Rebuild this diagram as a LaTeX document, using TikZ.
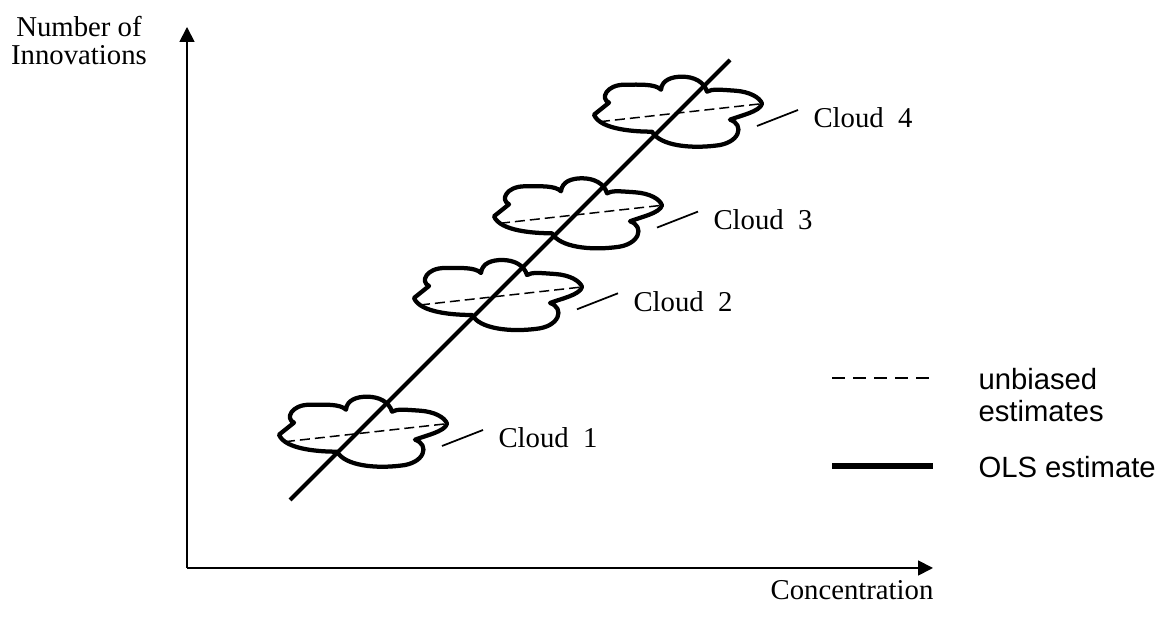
\documentclass[tikz,border=0pt]{standalone}
\usepackage{fontspec}
\setmainfont{Liberation Serif}
\newfontfamily\legendfont{Liberation Sans}
\usetikzlibrary{arrows.meta}

\tikzset{
  axis/.style={line width=0.7pt,-{Triangle[length=6pt,width=6pt]}},
  ols/.style={line width=1.6pt},
  cloudline/.style={line width=1.7pt,line join=round},
  unbiased/.style={line width=0.6pt,dash pattern=on 4pt off 2pt},
  leader/.style={line width=0.7pt},
  seriflabel/.style={font=\fontsize{11.5}{14}\selectfont,inner sep=0pt},
  legendlabel/.style={font=\legendfont\fontsize{11.7}{14}\selectfont,inner sep=0pt,anchor=base west},
  % one cloud of observations, its origin at the left end of its dashed line
  cloudpic/.pic={
    \draw[cloudline] (-6,7) -- (9,19)
      .. controls (0,23) and (6,37) .. (25,37)
      .. controls (40,37) and (55,38) .. (61,32)
      .. controls (62,42) and (72,45) .. (82,45)
      .. controls (94,45) and (104,40) .. (107,30)
      .. controls (112,33) and (120,32) .. (135,31)
      .. controls (150,30) and (160,24) .. (162,18)
      .. controls (160,10) and (140,6) .. (130,2)
      .. controls (145,-3) and (140,-22) .. (115,-24)
      .. controls (90,-27) and (60,-24) .. (52,-10)
      .. controls (35,-10) and (0,-8) .. (-6,7) -- cycle;
    \coordinate (-a) at (0,0);
    \coordinate (-b) at (162,18);
    \draw[unbiased] (-a) -- (-b);
    \coordinate (-lead) at (157,-4.3);
    \coordinate (-tail) at (198,11.7);
  }
}

\begin{document}
\begin{tikzpicture}[x=0.4pt,y=0.4pt]
\useasboundingbox (0,0) rectangle (1158,617);

% axes
\coordinate (origin) at (187,49);
\coordinate (ytip) at (187,590);
\coordinate (xtip) at (933,49);
\draw[axis] (origin) -- (ytip);
\draw[axis] (origin) -- (xtip);

\node[seriflabel,anchor=base] (ylab1) at (79,580) {Number of};
\node[seriflabel,anchor=base] (ylab2) at (79,552) {Innovations};
\node[seriflabel,anchor=base] (xlab) at (852,17) {Concentration};

% clouds
\pic (c1) at (285,175.3) {cloudpic};
\pic (c2) at (420,312) {cloudpic};
\pic (c3) at (500,393.7) {cloudpic};
\pic (c4) at (600,495.3) {cloudpic};

% OLS regression line
\coordinate (olsA) at (290,117);
\coordinate (olsB) at (730,557);
\draw[ols] (olsA) -- (olsB);

% cloud labels with leader lines
\node[seriflabel,anchor=base west] (l1) at (498,169) {Cloud\ \ 1};
\node[seriflabel,anchor=base west] (l2) at (633,305.7) {Cloud\ \ 2};
\node[seriflabel,anchor=base west] (l3) at (713,387.4) {Cloud\ \ 3};
\node[seriflabel,anchor=base west] (l4) at (813,489) {Cloud\ \ 4};
\foreach \c in {c1,c2,c3,c4}
  \draw[leader] (\c-lead) -- (\c-tail);

% legend
\coordinate (ubA) at (832,239);
\coordinate (ubB) at (933,239);
\draw[line width=0.55pt,dash pattern=on 5.3pt off 3.1pt] (ubA) -- (ubB);
\coordinate (olsLA) at (832,151);
\coordinate (olsLB) at (933,151);
\draw[line width=2.4pt] (olsLA) -- (olsLB);
\node[legendlabel] (leg1) at (978,227) {unbiased};
\node[legendlabel] (leg2) at (978,195) {estimates};
\node[legendlabel] (leg3) at (978,139) {OLS estimate};
\end{tikzpicture}
\end{document}
